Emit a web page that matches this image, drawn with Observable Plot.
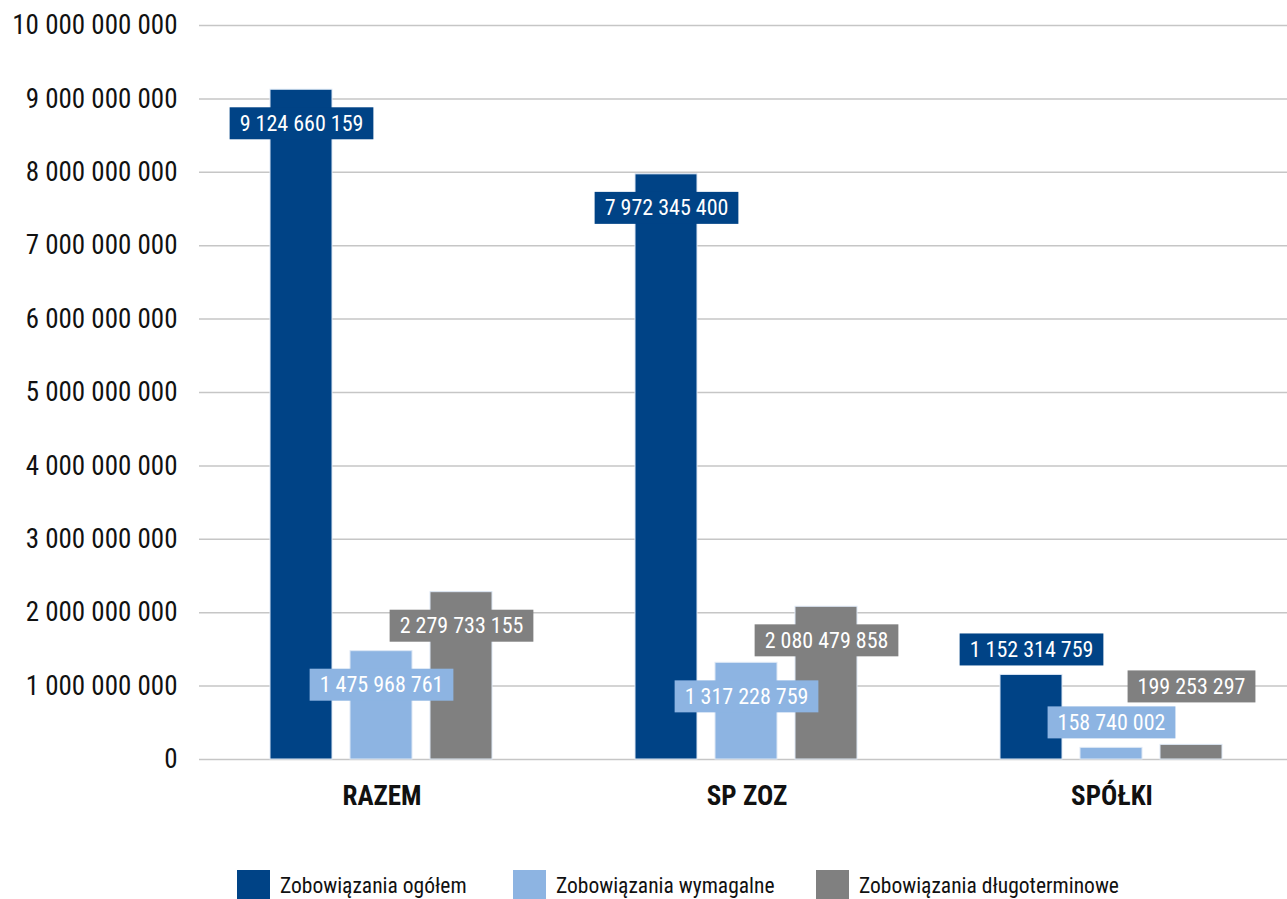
<!DOCTYPE html>
<html>
<head>
<meta charset="utf-8">
<script src="https://cdn.jsdelivr.net/npm/d3@7"></script>
<script src="https://cdn.jsdelivr.net/npm/@observablehq/plot@0.6"></script>
<style>
  html, body { margin: 0; padding: 0; background: #fff; }
  body { width: 1287px; height: 899px; overflow: hidden; font-family: "Liberation Sans Narrow", "Roboto Condensed", "DejaVu Sans Condensed", sans-serif; }
  #chart { width: 1287px; height: 840px; overflow: hidden; }
  #chart svg { max-width: none !important; }
  #legend { position: relative; height: 59px; }
  .item { display: flex; align-items: center; position: absolute; top: 30px; }
  .sw { width: 33px; height: 30px; margin-right: 10px; }
  .lt { font-size: 21.5px; color: #111; }
</style>
</head>
<body>
<div id="chart"></div>
<div id="legend"></div>
<script>
const categories = ["RAZEM", "SP ZOZ", "SPÓŁKI"];
const series = ["Zobowiązania ogółem", "Zobowiązania wymagalne", "Zobowiązania długoterminowe"];
const ogolem = [9124660159, 7972345400, 1152314759];
const wymagalne = [1475968761, 1317228759, 158740002];
const dlugoterminowe = [2279733155, 2080479858, 199253297];
const yTicks = [0, 1e9, 2e9, 3e9, 4e9, 5e9, 6e9, 7e9, 8e9, 9e9, 10e9];
const colors = ["#004386", "#8db4e2", "#808080"];

const values = [ogolem, wymagalne, dlugoterminowe];
const rows = [];
categories.forEach((c, i) => series.forEach((s, j) => rows.push({cat: c, series: s, si: j, value: values[j][i]})));

const fmt = v => d3.format(",")(v).replace(/,/g, " ");
const FONT = '"Liberation Sans Narrow", "Roboto Condensed", "DejaVu Sans Condensed", sans-serif';

// label placement: inside the bar top for tall bars, above otherwise
function labelDy(d) {
  if (d.value > 1.2e9) return 34;
  if (d.si === 2) return -58;
  return -25;
}
const groups = d3.groups(rows, d => d.si, labelDy);
const labelMarks = [];
for (const [si, sub] of groups) {
  for (const [dy, data] of sub) {
    labelMarks.push(Plot.text(data, {
      fx: "cat", x: "series", y: "value", text: d => fmt(d.value),
      dy: dy, fill: "white", fontSize: 22, className: "lbl lbl-" + si
    }));
  }
}

const chart = Plot.plot({
  width: 1295,
  height: 840,
  marginLeft: 198,
  marginRight: 0,
  marginTop: 25,
  marginBottom: 81,
  style: {fontFamily: FONT, background: "white", maxWidth: "none"},
  fx: {domain: categories, padding: 0, label: null},
  x: {domain: series, paddingInner: 0.222, paddingOuter: 0.867, axis: null},
  y: {domain: [0, 10e9], label: null},
  color: {domain: series, range: colors},
  marks: [
    Plot.ruleY(yTicks, {stroke: "#c6c6c6", strokeWidth: 1.5}),
    Plot.barY(rows, {fx: "cat", x: "series", y: "value", fill: "series", stroke: "#dde8f5", strokeWidth: 1}),
    Plot.axisY({ticks: yTicks, tickSize: 0, tickPadding: 22, tickFormat: fmt, fontSize: 27, label: null, fill: "#111"}),
    Plot.axisFx({anchor: "bottom", tickSize: 0, tickPadding: 26, fontSize: 27, fontWeight: "bold", label: null, fill: "#111"}),
    ...labelMarks
  ]
});
chart.style.maxWidth = "none";
document.getElementById("chart").appendChild(chart);

// draw label boxes behind label text
chart.querySelectorAll("g.lbl").forEach(g => {
  const si = +[...g.classList].find(c => c.startsWith("lbl-")).slice(4);
  g.querySelectorAll("text").forEach(t => {
    const b = t.getBBox();
    const padX = 10, h = 32;
    const cy = b.y + b.height / 2;
    const r = document.createElementNS("http://www.w3.org/2000/svg", "rect");
    r.setAttribute("x", b.x - padX);
    r.setAttribute("y", cy - h / 2);
    r.setAttribute("width", b.width + 2 * padX);
    r.setAttribute("height", h);
    r.setAttribute("fill", colors[si]);
    const tr = t.getAttribute("transform");
    if (tr) r.setAttribute("transform", tr);
    t.parentNode.insertBefore(r, t);
  });
});

const legend = document.getElementById("legend");
const starts = [237, 513, 816];
series.forEach((s, i) => {
  const it = document.createElement("div");
  it.className = "item";
  it.style.left = starts[i] + "px";
  it.innerHTML = `<div class="sw" style="background:${colors[i]}"></div><div class="lt">${s}</div>`;
  legend.appendChild(it);
});
</script>
</body>
</html>
